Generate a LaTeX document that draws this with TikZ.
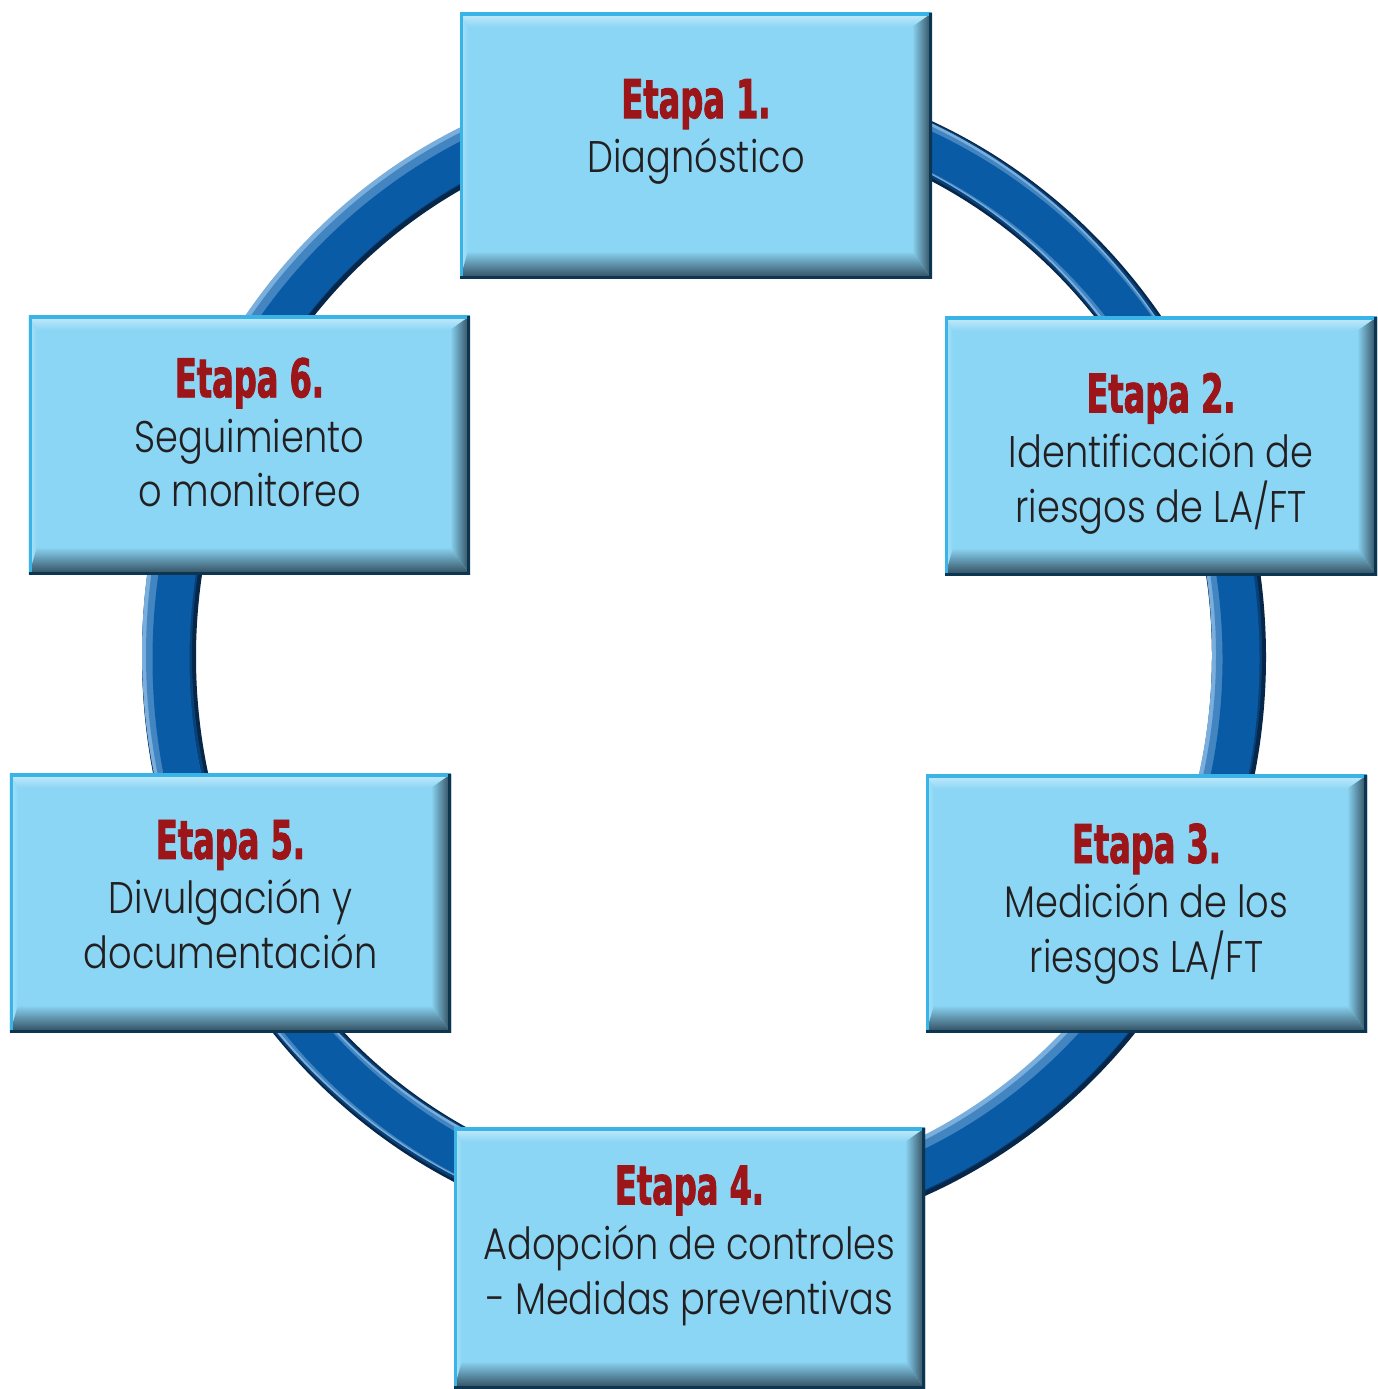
\documentclass[tikz,border=0pt]{standalone}
\usepackage{fontspec}
\setmainfont{Poppins}[UprightFont=* Light, FakeStretch=0.83]
\newfontfamily\etapafont{DejaVu Sans}[FakeStretch=0.6, FakeBold=1.6]
\definecolor{boxfill}{HTML}{8BD6F5}
\definecolor{bevlight}{HTML}{C6EBFB}
\definecolor{bevdark}{HTML}{2D4656}
\definecolor{edgedark}{HTML}{0B3550}
\definecolor{edgecyan}{HTML}{3AB3E6}
\definecolor{ringblue}{HTML}{0A5BA6}
\definecolor{ringlight}{HTML}{7AAEDC}
\definecolor{ringdark}{HTML}{06264A}
\definecolor{etapared}{HTML}{9B1519}
\definecolor{txtgray}{HTML}{231F20}
\newcommand{\bevel}{%
  \coordinate (sw) at (path picture bounding box.south west);
  \coordinate (se) at (path picture bounding box.south east);
  \coordinate (nw) at (path picture bounding box.north west);
  \coordinate (ne) at (path picture bounding box.north east);
  \shade[top color=bevlight, bottom color=boxfill] (nw) -- (ne) -- ([shift={(-0.2,-0.14)}]ne) -- ([shift={(0.08,-0.14)}]nw) -- cycle;
  \shade[left color=bevlight!60!boxfill, right color=boxfill] (nw) -- ([shift={(0.08,-0.14)}]nw) -- ([shift={(0.08,0.28)}]sw) -- (sw) -- cycle;
  \shade[left color=boxfill, right color=bevdark] (ne) -- (se) -- ([shift={(-0.2,0.28)}]se) -- ([shift={(-0.2,-0.14)}]ne) -- cycle;
  \shade[top color=boxfill, bottom color=bevdark] (sw) -- (se) -- ([shift={(-0.2,0.28)}]se) -- ([shift={(0.08,0.28)}]sw) -- cycle;
  \draw[edgecyan, line width=1.6pt] (sw) -- (nw) -- (ne);
  \draw[edgedark, line width=1.6pt] (ne) -- (se) -- (sw);
}
\tikzset{
  etapa/.style={rectangle, fill=boxfill, inner sep=0pt, minimum height=2.59cm, path picture={\bevel}},
  etapatxt/.style={align=center, text=txtgray, inner sep=0pt, font=\fontsize{12.6}{15.6}\selectfont},
  ring/.style={line width=#1}
}
\newcommand{\titulo}[1]{{\etapafont\bfseries\fontsize{15.2}{15.6}\selectfont\color{etapared}#1}}

\begin{document}
\begin{tikzpicture}
  \useasboundingbox (0,0) rectangle (13.77,13.89);
  \draw[ringdark, ring=0.54cm] (7.04,7.32) ellipse [x radius=5.35, y radius=5.59];
  \draw[ringdark!50!ringblue, ring=0.50cm] (7.02,7.34) ellipse [x radius=5.35, y radius=5.59];
  \draw[ringlight, ring=0.46cm] (7.00,7.36) ellipse [x radius=5.35, y radius=5.59];
  \draw[ringlight!50!ringblue, ring=0.42cm] (7.02,7.34) ellipse [x radius=5.35, y radius=5.59];
  \draw[ringblue, ring=0.37cm] (7.06,7.30) ellipse [x radius=5.35, y radius=5.59];

  \node[etapa, minimum width=4.72cm, minimum height=2.66cm] (e1) at (6.96,12.43) {};
  \node[etapa, minimum width=4.32cm] (e2) at (11.61,9.425) {};
  \node[etapa, minimum width=4.41cm, minimum height=2.58cm] (e3) at (11.465,4.85) {};
  \node[etapa, minimum width=4.71cm, minimum height=2.61cm] (e4) at (6.895,1.305) {};
  \node[etapa, minimum width=4.41cm] (e5) at (2.305,4.855) {};
  \node[etapa, minimum width=4.41cm] (e6) at (2.495,9.435) {};

  \node[etapatxt] (t1) at ([yshift=1.4mm]e1.center) {\titulo{Etapa 1.}\\Diagnóstico};
  \node[etapatxt] (t2) at ([yshift=-0.7mm]e2.center) {\titulo{Etapa 2.}\\Identificación de\\riesgos de LA/FT};
  \node[etapatxt] (t3) at (e3.center) {\titulo{Etapa 3.}\\Medición de los\\riesgos LA/FT};
  \node[etapatxt] (t4) at ([yshift=1.3mm]e4.center) {\titulo{Etapa 4.}\\Adopción de controles\\- Medidas preventivas};
  \node[etapatxt] (t5) at ([yshift=0.9mm]e5.center) {\titulo{Etapa 5.}\\Divulgación y\\documentación};
  \node[etapatxt] (t6) at ([yshift=1.3mm]e6.center) {\titulo{Etapa 6.}\\Seguimiento\\o monitoreo};
\end{tikzpicture}
\end{document}
